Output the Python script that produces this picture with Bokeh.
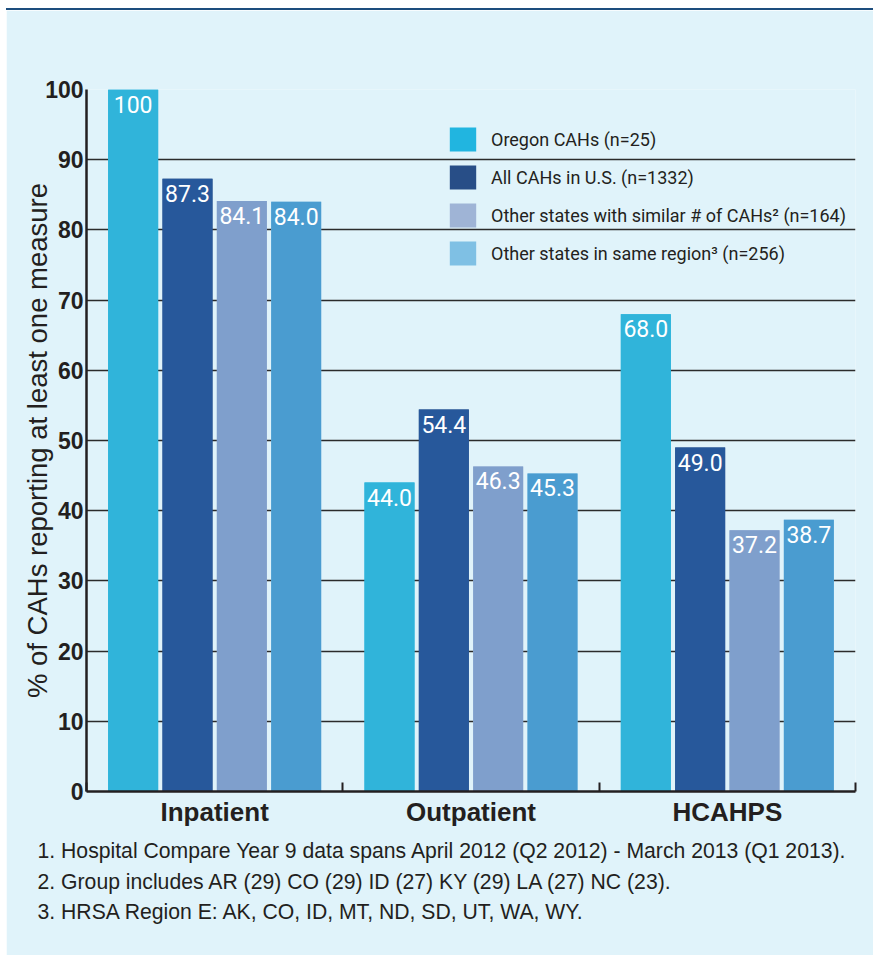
from bokeh.plotting import figure
from bokeh.models import (Range1d, FixedTicker, Legend, LegendItem,
                          ColumnDataSource, Title)
from bokeh.core.properties import value
from bokeh.embed import file_html
from bokeh.resources import INLINE

# ---------------- data ----------------
categories = ["Inpatient", "Outpatient", "HCAHPS"]
series_names = [
    "Oregon CAHs (n=25)",
    "All CAHs in U.S. (n=1332)",
    "Other states with similar # of CAHs\u00b2 (n=164)",
    "Other states in same region\u00b3 (n=256)",
]
oregon = [100, 44.0, 68.0]
all_us = [87.3, 54.4, 49.0]
similar_states = [84.1, 46.3, 37.2]
same_region = [84.0, 45.3, 38.7]
y_ticks = [0, 10, 20, 30, 40, 50, 60, 70, 80, 90, 100]
y_axis_title = "% of CAHs reporting at least one measure"
footnotes = [
    "1. Hospital Compare Year 9 data spans April 2012 (Q2 2012) - March 2013 (Q1 2013).",
    "2. Group includes AR (29) CO (29) ID (27) KY (29) LA (27) NC (23).",
    "3. HRSA Region E: AK, CO, ID, MT, ND, SD, UT, WA, WY.",
]

# ---------------- styles ----------------
BG = "#e0f3fa"
INK = "#231f20"
bar_colors = ["#30b4da", "#27589b", "#7f9fcc", "#4a9cd0"]
legend_fill = ["#21b5e0", "#284e87", "#9fb4d6", "#7fc0e4"]
NARROW = "Roboto"
SANS = "Liberation Sans"

p = figure(width=867, height=947,
           x_range=Range1d(-0.5, 2.5), y_range=Range1d(0, 100),
           output_backend="svg", toolbar_location=None,
           min_border_left=80, min_border_right=18,
           min_border_top=79, min_border_bottom=166)
p.styles = {"margin-top": "8px", "margin-left": "6px",
            "border-top": "2px solid #1d4e7e"}
p.title.visible = False
p.background_fill_color = BG
p.border_fill_color = BG
p.outline_line_color = None

# grid
p.xgrid.grid_line_color = None
p.ygrid.ticker = FixedTicker(ticks=y_ticks)
p.ygrid.grid_line_color = "#2b2b2b"
p.ygrid.grid_line_width = 1.6

# bars
series = [oregon, all_us, similar_states, same_region]
bar_w = 0.195
step = 0.212
sources = []
for j, vals in enumerate(series):
    off = (j - 1.5) * step
    xs = [i + off for i in range(len(categories))]
    labels = ["100" if v == 100 else f"{v:.1f}" for v in vals]
    sources.append(ColumnDataSource(dict(x=xs, top=vals, label=labels)))

# legend-swatch renderers (same geometry, drawn first, hidden by the bars)
items = []
for j, src in enumerate(sources):
    r = p.vbar(x="x", top="top", width=bar_w, source=src,
               fill_color=legend_fill[j], line_color=None)
    items.append(LegendItem(label=series_names[j], renderers=[r]))

for j, src in enumerate(sources):
    p.vbar(x="x", top="top", width=bar_w, source=src,
           fill_color=bar_colors[j], line_color=None)
    p.text(x="x", y="top", text="label", source=src,
           text_align="center", text_baseline="top", y_offset=6,
           text_color="white", text_font=value(NARROW),
           text_font_size="23px")

legend = Legend(items=items, location=(360, 523), orientation="vertical",
                glyph_width=33, glyph_height=30, spacing=8, padding=0,
                margin=0, label_standoff=12,
                background_fill_alpha=0, border_line_color=None,
                label_text_font=NARROW, label_text_font_size="18px",
                label_text_color=INK)
p.add_layout(legend)

# x axis
xa = p.xaxis[0]
xa.ticker = FixedTicker(ticks=[0, 1, 2], minor_ticks=[-0.5, 0.5, 1.5, 2.5])
xa.major_label_overrides = {i: c for i, c in enumerate(categories)}
xa.major_tick_in = 0
xa.major_tick_out = 0
xa.minor_tick_in = 9
xa.minor_tick_out = 0
xa.minor_tick_line_color = INK
xa.minor_tick_line_width = 2
xa.axis_line_color = INK
xa.axis_line_width = 2.5
xa.major_label_standoff = 5
xa.major_label_text_font = SANS
xa.major_label_text_font_style = "bold"
xa.major_label_text_font_size = "26px"
xa.major_label_text_color = INK

# y axis
ya = p.yaxis[0]
ya.ticker = FixedTicker(ticks=y_ticks)
ya.major_tick_in = 0
ya.major_tick_out = 0
ya.minor_tick_line_color = None
ya.axis_line_color = INK
ya.axis_line_width = 2.5
ya.major_label_standoff = 3
ya.major_label_text_font = SANS
ya.major_label_text_font_style = "bold"
ya.major_label_text_font_size = "23px"
ya.major_label_text_color = INK
ya.axis_label = y_axis_title
ya.axis_label_standoff = -11
ya.axis_label_text_font = SANS
ya.axis_label_text_font_style = "normal"
ya.axis_label_text_font_size = "27.5px"
ya.axis_label_text_color = INK

# footnotes as one multi-line title below the axis
p.add_layout(Title(text="\n".join(footnotes), align="left", offset=-49,
                   standoff=14, text_line_height=1.34,
                   text_font=SANS, text_font_style="normal",
                   text_font_size="21.2px", text_color=INK), "below")

open("out.html", "w").write(file_html(p, INLINE))
